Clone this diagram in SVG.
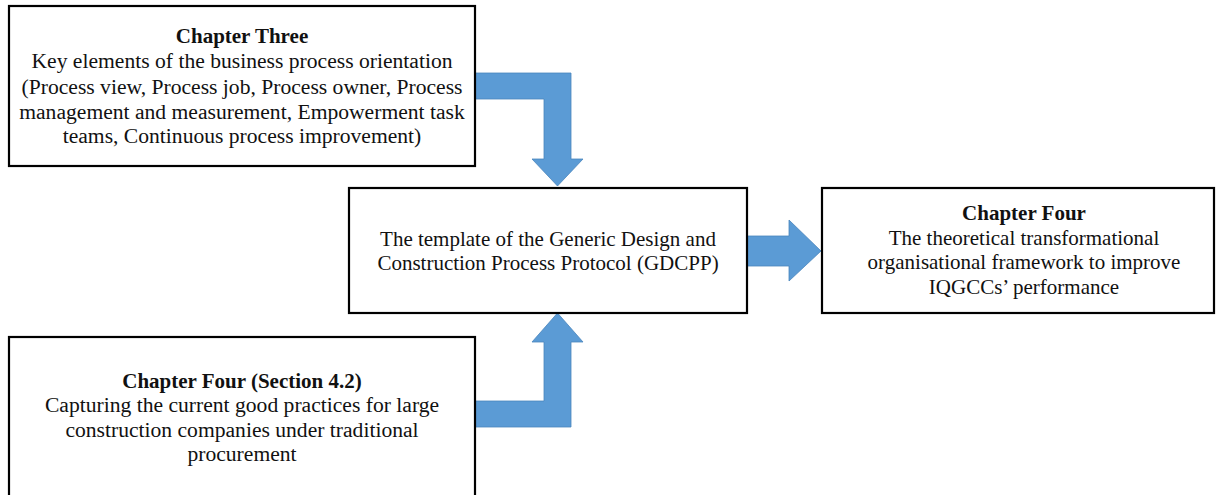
<svg xmlns="http://www.w3.org/2000/svg" width="1216" height="495" viewBox="0 0 1216 495">
<style>
.box{fill:#fff;stroke:#000;stroke-width:2.2}
.t{font-family:"Liberation Serif","Times New Roman",serif;font-size:21px;fill:#111;text-anchor:middle}
.l{font-size:21.6px}
.b{font-weight:bold}
.arr{fill:#5b9bd5;stroke:#4a85bd;stroke-width:0.8}
</style>
<rect width="1216" height="495" fill="#fff"/>
<g id="connectors">
<polygon class="arr" points="475,73 571,73 571,159 583,159 557.5,186 532,159 544,159 544,99 475,99"/>
<polygon class="arr" points="475,427 571,427 571,342 583,342 557.5,313 532,342 544,342 544,401 475,401"/>
<polygon class="arr" points="747,236 789,236 789,220 821,251 789,281 789,266 747,266"/>
</g>
<g id="node-chapter-three">
<rect class="box" x="9" y="6" width="466" height="160"/>
<text class="t b" x="242" y="43">Chapter Three</text>
<text class="t l" x="242" y="68">Key elements of the business process orientation</text>
<text class="t l" x="242" y="94">(Process view, Process job, Process owner, Process</text>
<text class="t l" x="242" y="119">management and measurement, Empowerment task</text>
<text class="t l" x="242" y="143">teams, Continuous process improvement)</text>
</g>
<g id="node-gdcpp">
<rect class="box" x="349" y="188" width="398" height="125"/>
<text class="t" x="548" y="246">The template of the Generic Design and</text>
<text class="t" x="548" y="270">Construction Process Protocol (GDCPP)</text>
</g>
<g id="node-chapter-four">
<rect class="box" x="822" y="188" width="392" height="125"/>
<text class="t b" x="1024" y="220">Chapter Four</text>
<text class="t" x="1024" y="245">The theoretical transformational</text>
<text class="t" x="1024" y="269">organisational framework to improve</text>
<text class="t" x="1024" y="294">IQGCCs’ performance</text>
</g>
<g id="node-chapter-four-section">
<rect class="box" x="9" y="337" width="466" height="170"/>
<text class="t b" x="242" y="388">Chapter Four (Section 4.2)</text>
<text class="t l" x="242" y="412">Capturing the current good practices for large</text>
<text class="t l" x="242" y="437">construction companies under traditional</text>
<text class="t l" x="242" y="461">procurement</text>
</g>
</svg>
